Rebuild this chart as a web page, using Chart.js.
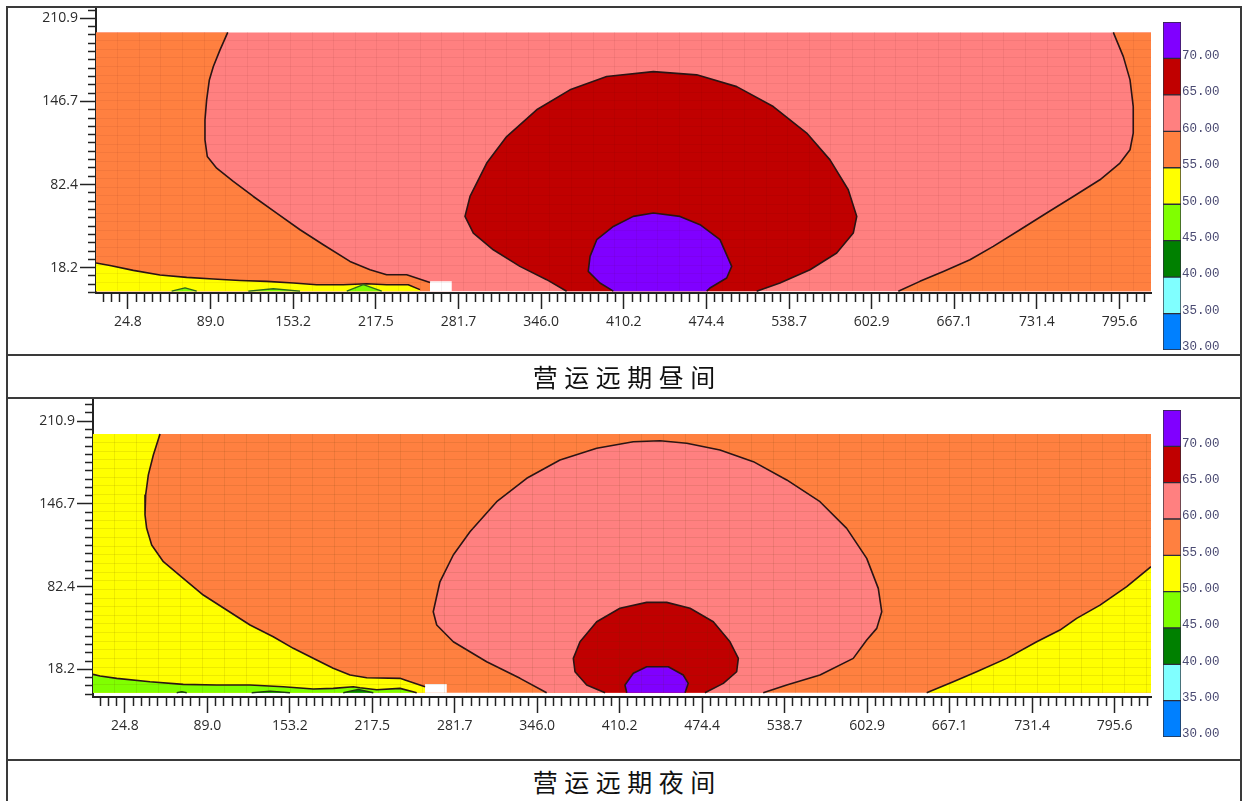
<!DOCTYPE html>
<html><head><meta charset="utf-8">
<script src="https://cdn.jsdelivr.net/npm/chart.js@4.4.1/dist/chart.umd.min.js"></script>
<style>
html,body{margin:0;padding:0;background:#fff;}
body{width:1245px;height:801px;overflow:hidden;position:relative;font-family:'Open Sans',sans-serif;}
canvas{position:absolute;display:block;}
.hl{position:absolute;left:6px;width:1236px;height:2px;background:#3a3a3a;z-index:5;}
.vl{position:absolute;top:6px;width:2px;height:800px;background:#3a3a3a;z-index:5;}
.cap{position:absolute;left:8px;width:1232px;height:41px;line-height:41px;text-align:center;font-family:'Noto Sans CJK SC',sans-serif;font-weight:400;font-size:25px;letter-spacing:6.5px;text-indent:6.5px;color:#111;z-index:5;}
</style></head><body>
<canvas id="dayMain" width="1150" height="346" style="left:8px;top:8px;width:1150px;height:346px"></canvas>
<canvas id="dayMesh" width="10" height="10"></canvas>
<canvas id="dayBar" width="84" height="345" style="left:1158px;top:12px;width:84px;height:345px"></canvas>
<canvas id="nightMain" width="1150" height="360" style="left:8px;top:399px;width:1150px;height:360px"></canvas>
<canvas id="nightMesh" width="10" height="10"></canvas>
<canvas id="nightBar" width="84" height="345" style="left:1158px;top:400px;width:84px;height:345px"></canvas>
<div class="hl" style="top:6px"></div>
<div class="hl" style="top:354px"></div>
<div class="hl" style="top:397px"></div>
<div class="hl" style="top:759px"></div>
<div class="vl" style="left:6px"></div>
<div class="vl" style="left:1240px"></div>
<div class="cap" style="top:356px">营运远期昼间</div>
<div class="cap" style="top:761px">营运远期夜间</div>
<script>
// ---------- axis tick labels ----------
const xTickLabels = ['24.8','89.0','153.2','217.5','281.7','346.0','410.2','474.4','538.7','602.9','667.1','731.4','795.6'];
const yTickLabels = ['18.2','82.4','146.7','210.9'];
// ---------- colour scale (legend) ----------
const legendLevels = [30, 35, 40, 45, 50, 55, 60, 65, 70, 75];
const legendColors = ['#0080FF','#80FFFF','#008000','#80FF00','#FFFF00','#FF8040','#FF8080','#C00000','#8000FF'];
const BLUE = legendColors[0], CYAN = legendColors[1], DGREEN = legendColors[2], LGREEN = legendColors[3],
      YELLOW = legendColors[4], ORANGE = legendColors[5], PINK = legendColors[6], RED = legendColors[7], VIOLET = legendColors[8];

// ---------- daytime contour bands (x, y in axis units) ----------
const dayExtent = [820, 200];
const dayBackground = [[0,0],[0,200],[820,200],[820,0]];
const dayOrangeLeft = [[0,0],[0,200],[102.4,200],[96.4,186.5],[91.2,173.6],[88.1,163.3],[86.0,147.9],[84.7,132.4],[84.7,117.0],[86.5,104.1],[93.8,95.1],[106.7,84.8],[122.3,73.2],[140.4,60.4],[158.6,47.5],[176.7,35.9],[197.4,23.0],[213.0,16.6],[225.9,12.7],[241.5,12.7],[259.6,6.8],[259.6,0]];
const dayYellowLeft = [[0,0],[0,21.8],[10.9,19.9],[29.0,16.1],[49.7,12.5],[70.5,10.7],[91.2,9.4],[111.9,8.3],[132.7,7.6],[153.4,6.3],[171.5,5.0],[192.2,5.0],[210.4,5.8],[225.9,5.0],[242.7,5.0],[251.8,1.2],[251.8,0]];
const daySpotA = [[58.8,0],[69.2,2.5],[78.3,0]];
const daySpotB = [[118.4,0],[137.8,1.9],[158.6,0]];
const daySpotC = [[194.9,0],[207.8,5.0],[222.1,0]];
const dayGap = [[259.6,0],[259.6,7.6],[276.5,7.6],[276.5,0]];
const dayOrangeRight = [[623.6,0],[640.4,7.6],[658.6,15.3],[679.3,24.3],[697.4,34.6],[718.2,47.5],[738.9,60.4],[759.6,73.2],[780.3,86.1],[795.9,99.0],[803.7,109.3],[806.2,122.2],[806.2,142.7],[803.7,163.3],[798.5,181.3],[790.7,200],[820,200],[820,0]];
const dayRed = [[365.8,0],[350.3,8.9],[329.5,19.2],[308.8,32.0],[293.3,44.9],[286.8,57.8],[290.7,73.2],[303.7,99.0],[319.2,119.5],[342.5,140.2],[368.4,155.6],[396.9,165.9],[433.2,169.7],[466.9,167.2],[498.0,158.1],[526.4,142.7],[552.4,122.2],[570.5,101.5],[584.7,78.4],[591.3,57.8],[588.6,44.9],[575.7,29.5],[555.0,16.6],[531.6,6.3],[513.5,0]];
const dayViolet = [[402.1,0],[391.7,6.3],[382.6,15.3],[384.0,26.9],[389.2,39.8],[402.1,50.0],[417.6,57.8],[433.2,60.4],[453.9,57.8],[469.5,51.4],[485.0,39.8],[494.1,19.2],[490.2,10.2],[477.2,2.5],[474.7,0]];

// ---------- night contour bands ----------
const nightExtent = [824, 201];
const nightBackground = [[0,0],[0,201],[824,201],[824,0]];
const nightYellowLeft = [[0,0],[0,201],[52.2,201],[47.0,184.7],[43.1,169.2],[41.0,153.6],[40.5,138.1],[41.8,127.7],[45.7,114.8],[54.8,101.8],[70.3,88.9],[85.9,75.9],[104.1,64.3],[122.3,52.6],[140.4,43.5],[156.0,34.5],[174.2,25.4],[187.1,19.0],[200.2,13.8],[213.2,11.7],[239.1,11.2],[243.0,9.9],[258.6,4.7],[258.6,0]];
const nightGreenLeft = [[0,0],[0,14.3],[5.5,13.0],[18.5,11.2],[44.4,8.5],[70.3,6.5],[96.3,6.0],[122.3,6.0],[148.2,4.7],[171.6,2.9],[187.1,3.4],[202.7,4.7],[207.9,3.9],[221.0,2.3],[239.1,3.4],[252.1,0]];
const nightSpotA = [[65.2,0],[69.1,0.9],[73.0,0]];
const nightSpotB = [[123.6,0],[137.9,1.3],[153.4,0]];
const nightSpotC = [[194.9,0],[206.6,2.6],[218.3,0]];
const nightGap = [[258.6,0],[258.6,6.8],[275.5,6.8],[275.5,0]];
const nightYellowRight = [[649.3,0],[670.0,8.5],[688.2,16.3],[711.6,26.7],[735.0,39.6],[753.1,48.7],[766.1,57.8],[784.3,68.1],[805.1,82.4],[824,97.9],[824,0]];
const nightPink = [[353.3,0],[332.6,11.2],[306.6,24.1],[280.6,39.6],[267.7,52.6],[265.0,62.9],[270.2,86.2],[280.6,107.0],[293.6,125.1],[314.4,148.4],[337.8,166.6],[363.7,180.8],[392.3,189.9],[420.8,195.0],[441.6,195.8],[462.4,193.8],[488.3,188.6],[514.3,179.5],[540.3,165.3],[566.2,148.4],[587.0,127.7],[602.6,104.4],[611.6,81.1],[614.3,62.9],[610.4,50.0],[602.6,40.9],[592.1,26.7],[566.2,13.8],[540.3,6.0],[522.0,0]];
const nightRed = [[398.8,0],[384.5,6.0],[375.4,16.3],[374.1,26.7],[379.3,39.6],[392.3,55.2],[410.4,65.6],[431.2,70.2],[446.8,70.2],[465.0,65.6],[483.1,55.2],[496.1,39.6],[502.6,26.7],[501.3,16.3],[490.9,7.3],[476.6,0]];
const nightViolet = [[415.7,0],[414.3,6.0],[420.8,15.1],[431.2,20.2],[448.1,20.2],[459.7,13.8],[463.6,7.3],[461.1,0]];

// ---------- helpers ----------
const LINE = '#2a1414';
const MINOR = 10;

function tickSpec(labels, min, max) {
  const first = parseFloat(labels[0]), last = parseFloat(labels[labels.length - 1]);
  const step = (last - first) / ((labels.length - 1) * MINOR);
  const out = [];
  const kMin = Math.ceil((min - first) / step - 1e-9);
  const kMax = Math.floor((max - first) / step + 1e-9);
  for (let k = kMin; k <= kMax; k++) {
    const major = (k % MINOR === 0) && k >= 0 && (k / MINOR) < labels.length;
    out.push({value: first + k * step, major, text: major ? labels[k / MINOR] : ''});
  }
  return out;
}
function zeroPad(s) { s.paddingLeft = 0; s.paddingRight = 0; s.paddingTop = 0; s.paddingBottom = 0; }

function isEdge(a, b, ext) {
  if (a[0] === b[0] && (a[0] === 0 || a[0] === ext[0] || a[1] === 0 || b[1] === 0)) return true;
  if (a[1] === b[1] && (a[1] === 0 || a[1] === ext[1])) return true;
  return false;
}

function buildDatasets(regions, ext) {
  const fills = regions.map(r => ({
    data: r.pts, showLine: true, fill: 'shape', backgroundColor: r.color,
    borderWidth: 0, pointRadius: 0, pointHoverRadius: 0, tension: 0
  }));
  const strokes = regions.filter(r => r.stroke).map(r => ({
    data: r.pts, showLine: true, fill: false, borderColor: r.stroke, borderWidth: r.width || 1.6,
    borderJoinStyle: 'round', pointRadius: 0, pointHoverRadius: 0, tension: 0,
    segment: { borderColor: c => isEdge(r.pts[c.p0DataIndex], r.pts[c.p1DataIndex], ext) ? 'rgba(0,0,0,0)' : undefined }
  }));
  const all = fills.concat(strokes);
  all.forEach((d, i) => { d.order = all.length - i; });
  return all;
}

function mainChart(id, regions, ext, yRange, yAxisW, pad) {
  const xs = tickSpec(xTickLabels, 0, ext[0]);
  const ys = tickSpec(yTickLabels, yRange[0], yRange[1]);
  const font = {family: 'Open Sans', size: 14};
  return new Chart(document.getElementById(id), {
    type: 'scatter',
    data: { datasets: buildDatasets(regions, ext) },
    options: {
      responsive: false, animation: false, devicePixelRatio: 1, events: [],
      layout: { padding: pad },
      plugins: { legend: {display: false}, tooltip: {enabled: false} },
      scales: {
        x: {
          type: 'linear', position: 'bottom', min: 0, max: ext[0],
          afterBuildTicks: s => { s.ticks = xs.map(t => ({value: t.value})); },
          afterFit: s => { s.height = 45; zeroPad(s); },
          ticks: { autoSkip: false, maxRotation: 0, minRotation: 0, padding: 5, color: '#2b2b2b', font,
                   callback: (v, i) => xs[i] ? xs[i].text : '' },
          grid: { drawOnChartArea: false, drawTicks: true, tickLength: 16, tickWidth: 1.5, tickColor: '#222',
                  tickBorderDash: c => (xs[c.index] && xs[c.index].major) ? [] : [8, 50] },
          border: { display: true, color: '#222', width: 2 }
        },
        y: {
          type: 'linear', position: 'left', min: yRange[0], max: yRange[1],
          afterBuildTicks: s => { s.ticks = ys.map(t => ({value: t.value})); },
          afterFit: s => { s.width = yAxisW; zeroPad(s); },
          ticks: { autoSkip: false, padding: 2, color: '#2b2b2b', font,
                   callback: (v, i) => ys[i] ? ys[i].text : '' },
          grid: { drawOnChartArea: false, drawTicks: true, tickLength: 16, tickWidth: 1.5, tickColor: '#222',
                  tickBorderDash: c => (ys[c.index] && ys[c.index].major) ? [] : [8, 8],
                  tickBorderDashOffset: 8 },
          border: { display: true, color: '#222', width: 2 }
        }
      }
    }
  });
}

function meshChart(id, main, mainLeft, mainTop, ext, stepX, stepY, color) {
  const sx = main.scales.x, sy = main.scales.y;
  const l = Math.round(mainLeft + sx.getPixelForValue(0));
  const r = Math.round(mainLeft + sx.getPixelForValue(ext[0]));
  const t = Math.round(mainTop + sy.getPixelForValue(ext[1]));
  const b = Math.round(mainTop + sy.getPixelForValue(0));
  const cv = document.getElementById(id);
  cv.width = r - l; cv.height = b - t;
  cv.style.left = l + 'px'; cv.style.top = t + 'px';
  cv.style.width = (r - l) + 'px'; cv.style.height = (b - t) + 'px';
  const gx = [], gy = [];
  for (let v = stepX; v < ext[0] - 1; v += stepX) gx.push({value: v});
  for (let v = stepY; v < ext[1] - 1; v += stepY) gy.push({value: v});
  const axis = (min, max, list, horiz) => ({
    type: 'linear', min, max, display: true,
    afterBuildTicks: s => { s.ticks = list.slice(); },
    afterFit: s => { if (horiz) s.height = 0; else s.width = 0; zeroPad(s); },
    ticks: { display: false },
    grid: { drawTicks: false, color, lineWidth: 1 },
    border: { display: false }
  });
  return new Chart(cv, {
    type: 'scatter', data: { datasets: [] },
    options: {
      responsive: false, animation: false, devicePixelRatio: 1, events: [],
      layout: { padding: 0 },
      plugins: { legend: {display: false}, tooltip: {enabled: false} },
      scales: { x: axis(0, ext[0], gx, true), y: axis(0, ext[1], gy, false) }
    }
  });
}

function colorBar(id, pad) {
  const datasets = legendColors.map((c, i) => ({
    data: [[legendLevels[i], legendLevels[i + 1]]],
    backgroundColor: c, borderColor: '#2d2d3a', borderWidth: 1, borderSkipped: false,
    grouped: false, barPercentage: 1, categoryPercentage: 1
  }));
  return new Chart(document.getElementById(id), {
    type: 'bar',
    data: { labels: [''], datasets },
    options: {
      responsive: false, animation: false, devicePixelRatio: 1, events: [],
      layout: { padding: pad },
      plugins: { legend: {display: false}, tooltip: {enabled: false} },
      scales: {
        x: { display: false },
        y: {
          type: 'linear', position: 'right', min: legendLevels[0], max: legendLevels[legendLevels.length - 1],
          afterBuildTicks: s => { s.ticks = legendLevels.map(v => ({value: v})); },
          afterFit: s => { s.width = 61; zeroPad(s); },
          ticks: { padding: 1, labelOffset: -3, color: '#4a4a72', font: {family: 'Liberation Mono', size: 12.5},
                   callback: v => v < legendLevels[legendLevels.length - 1] ? v.toFixed(2) : '' },
          grid: { display: false, drawTicks: false },
          border: { display: false }
        }
      }
    }
  });
}

// ---------- daytime panel ----------
const dayRegions = [
  {pts: dayBackground, color: PINK},
  {pts: dayOrangeLeft, color: ORANGE, stroke: LINE},
  {pts: dayYellowLeft, color: YELLOW, stroke: LINE},
  {pts: daySpotA, color: LGREEN, stroke: '#2e6a1c', width: 1.3},
  {pts: daySpotB, color: LGREEN, stroke: '#2e6a1c', width: 1.3},
  {pts: daySpotC, color: LGREEN, stroke: '#2e6a1c', width: 1.3},
  {pts: dayGap, color: '#FFFFFF'},
  {pts: dayOrangeRight, color: ORANGE, stroke: LINE},
  {pts: dayRed, color: RED, stroke: LINE},
  {pts: dayViolet, color: VIOLET, stroke: LINE}
];
const dayChart = mainChart('dayMain', dayRegions, dayExtent, [-1.4, 218.1], 88, {left: 0, right: 7, top: 1, bottom: 16});
meshChart('dayMesh', dayChart, 8, 8, dayExtent, 16.8, 6.67, 'rgba(60,0,0,0.06)');
colorBar('dayBar', {left: 5, right: 0, top: 10, bottom: 7});

// ---------- night panel ----------
const nightRegions = [
  {pts: nightBackground, color: ORANGE},
  {pts: nightYellowLeft, color: YELLOW, stroke: LINE},
  {pts: nightGreenLeft, color: LGREEN, stroke: LINE},
  {pts: nightSpotA, color: DGREEN, stroke: '#1e3a12', width: 1.3},
  {pts: nightSpotB, color: DGREEN, stroke: '#1e3a12', width: 1.3},
  {pts: nightSpotC, color: DGREEN, stroke: '#1e3a12', width: 1.3},
  {pts: nightGap, color: '#FFFFFF'},
  {pts: nightYellowRight, color: YELLOW, stroke: LINE},
  {pts: nightPink, color: PINK, stroke: LINE},
  {pts: nightRed, color: RED, stroke: LINE},
  {pts: nightViolet, color: VIOLET, stroke: LINE}
];
const nightChart = mainChart('nightMain', nightRegions, nightExtent, [-3.3, 227.4], 85, {left: 0, right: 7, top: 1, bottom: 17});
meshChart('nightMesh', nightChart, 8, 399, nightExtent, 17.1, 6.7, 'rgba(80,50,0,0.10)');
colorBar('nightBar', {left: 5, right: 0, top: 10, bottom: 8});
</script>
</body></html>
